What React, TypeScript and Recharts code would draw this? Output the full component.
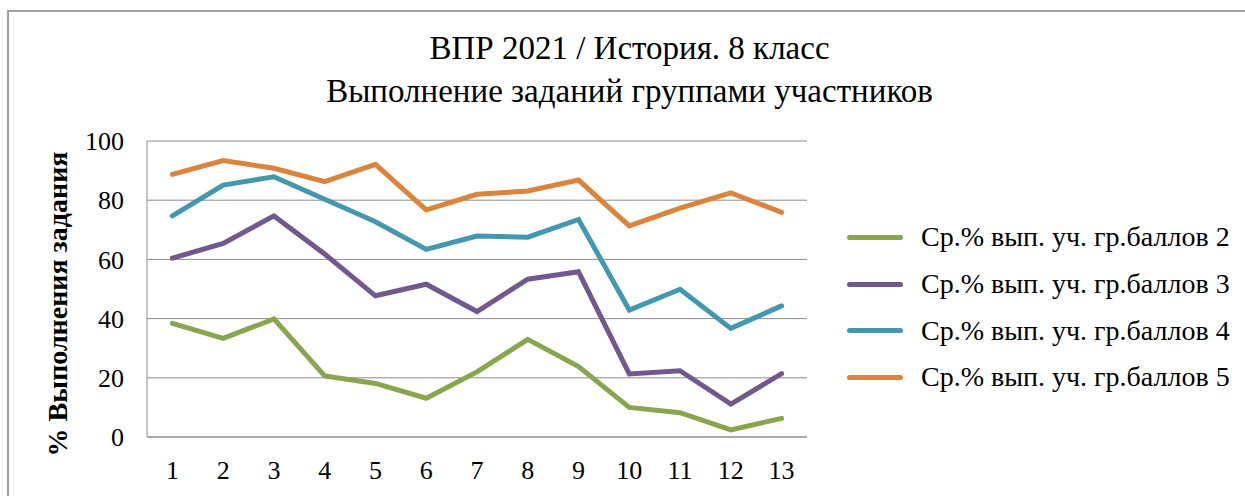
import React from "react";
import { CartesianGrid, Line, LineChart, XAxis, YAxis } from "recharts";

// task numbers along the x axis
const tasks = ["1", "2", "3", "4", "5", "6", "7", "8", "9", "10", "11", "12", "13"];

// average % of completion per score group
const group2 = [38.4, 33.3, 39.9, 20.6, 18.1, 13.1, 22, 33, 23.8, 10, 8.2, 2.4, 6.3];
const group3 = [60.4, 65.4, 74.7, 61.8, 47.7, 51.6, 42.4, 53.3, 55.8, 21.3, 22.4, 11.1, 21.4];
const group4 = [74.7, 85.1, 87.9, 80.3, 72.7, 63.4, 67.9, 67.5, 73.5, 42.9, 49.9, 36.7, 44.3];
const group5 = [88.7, 93.4, 90.8, 86.3, 92.1, 76.7, 82, 83.1, 86.8, 71.3, 77.3, 82.5, 75.9];

const yTicks = [0, 20, 40, 60, 80, 100];

const seriesNames = [
  "Ср.% вып. уч. гр.баллов 2",
  "Ср.% вып. уч. гр.баллов 3",
  "Ср.% вып. уч. гр.баллов 4",
  "Ср.% вып. уч. гр.баллов 5",
];
const colors = ["#89A54E", "#71588F", "#4198AF", "#DB843D"];

const data = tasks.map((t, i) => ({
  task: t,
  g2: group2[i],
  g3: group3[i],
  g4: group4[i],
  g5: group5[i],
}));

const FONT = "'Liberation Serif', 'Times New Roman', serif";

const LegendBox = () => (
  <div style={{ position: "absolute", left: 847, top: 214, fontFamily: FONT, fontSize: 28, color: "#000" }}>
    {seriesNames.map((name, i) => (
      <div key={name} style={{ display: "flex", alignItems: "center", height: 46.7 }}>
        <div style={{ width: 56, height: 5, borderRadius: 3, background: colors[i], marginRight: 18 }} />
        <span style={{ whiteSpace: "nowrap" }}>{name}</span>
      </div>
    ))}
  </div>
);

export default function App() {
  return (
    <div style={{ position: "absolute", left: 0, top: 0, width: 1245, height: 496, overflow: "hidden", background: "#fff" }}>
      <div
        style={{
          position: "absolute",
          left: 7,
          top: 10,
          width: 1300,
          height: 600,
          borderLeft: "2px solid #9f9f9f",
          borderTop: "2px solid #9f9f9f",
        }}
      />
      <div
        style={{
          position: "absolute",
          left: 14,
          top: 27,
          width: 1231,
          textAlign: "center",
          fontFamily: FONT,
          fontSize: 33,
          lineHeight: "43px",
          color: "#000",
        }}
      >
        <div>ВПР 2021 / История. 8 класс</div>
        <div>Выполнение заданий группами участников</div>
      </div>
      <div style={{ position: "absolute", left: 0, top: 0 }}>
        <LineChart width={1245} height={496} data={data} margin={{ top: 141, right: 438, bottom: 0, left: 0 }}>
          <CartesianGrid vertical={false} stroke="#8c8c8c" strokeWidth={1} />
          <XAxis
            dataKey="task"
            height={59}
            padding={{ left: 25.4, right: 25.4 }}
            tickLine={false}
            axisLine={{ stroke: "#8c8c8c" }}
            tickMargin={18}
            tick={{ fontFamily: FONT, fontSize: 26, fill: "#000" }}
          />
          <YAxis
            width={147}
            domain={[0, 100]}
            ticks={yTicks}
            tickLine={false}
            axisLine={{ stroke: "#8c8c8c" }}
            tickMargin={17}
            tick={{ fontFamily: FONT, fontSize: 26, fill: "#000" }}
            label={{
              content: () => (
                <text
                  x={57}
                  y={304}
                  transform="rotate(-90 57 304)"
                  textAnchor="middle"
                  dominantBaseline="central"
                  style={{ fontFamily: FONT, fontSize: 28, fontWeight: "bold", fill: "#000" }}
                >
                  % Выполнения задания
                </text>
              ),
            }}
          />
          <Line type="linear" dataKey="g2" name={seriesNames[0]} stroke={colors[0]} strokeWidth={5} strokeLinecap="round" dot={false} isAnimationActive={false} />
          <Line type="linear" dataKey="g3" name={seriesNames[1]} stroke={colors[1]} strokeWidth={5} strokeLinecap="round" dot={false} isAnimationActive={false} />
          <Line type="linear" dataKey="g4" name={seriesNames[2]} stroke={colors[2]} strokeWidth={5} strokeLinecap="round" dot={false} isAnimationActive={false} />
          <Line type="linear" dataKey="g5" name={seriesNames[3]} stroke={colors[3]} strokeWidth={5} strokeLinecap="round" dot={false} isAnimationActive={false} />
        </LineChart>
      </div>
      <LegendBox />
    </div>
  );
}
